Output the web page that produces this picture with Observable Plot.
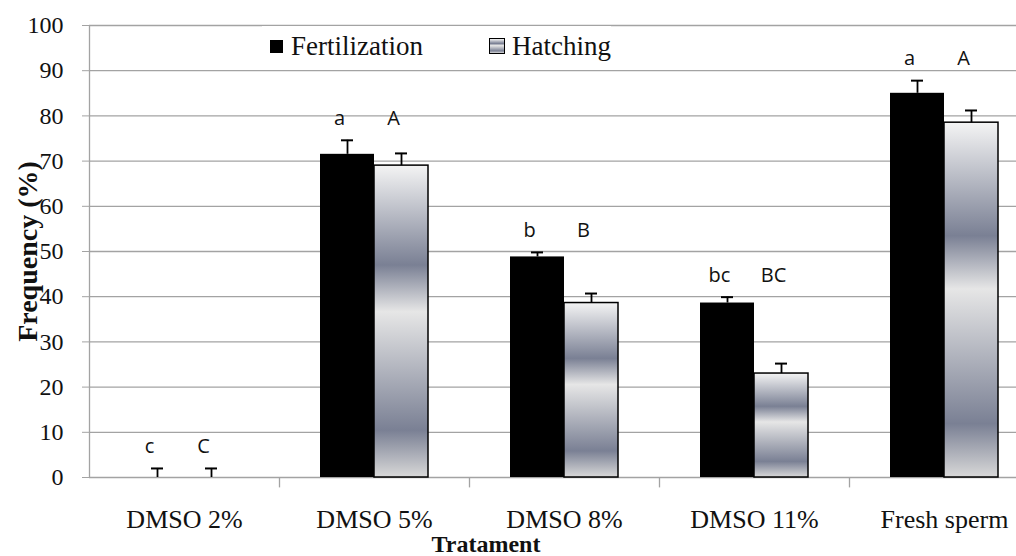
<!DOCTYPE html>
<html>
<head>
<meta charset="utf-8">
<script src="https://cdn.jsdelivr.net/npm/d3@7"></script>
<script src="https://cdn.jsdelivr.net/npm/@observablehq/plot@0.6"></script>
<style>
  body { margin: 0; background: #fff; }
  #wrap { position: relative; width: 1016px; height: 556px; overflow: hidden; background: #fff; }
  #wrap svg text { font-family: "Liberation Serif", "Times New Roman", serif; }
  #wrap svg text.sans, #wrap svg g.sans text { font-family: "Open Sans", Lato, sans-serif; }
  #legend { position: absolute; left: 262px; top: 26px; height: 40px; background: #fff;
            font-family: "Liberation Serif", "Times New Roman", serif; font-size: 27px; color: #111; display: flex; align-items: center; }
  .sw { display: inline-block; width: 13px; height: 13px; margin: 0 8px 0 8px; box-sizing: border-box; }
  .sw.f { background: #000; }
  .sw.h { width: 16px; height: 16px; border: 1.5px solid #000; margin-left: 66px; margin-right: 7px;
          background: linear-gradient(#f4f4f4 0%, #7a8094 32%, #e6e6e6 47%, #7a8094 85%, #d8d8d8 100%); }
</style>
</head>
<body>
<div id="wrap"></div>
<script>
const categories = ["DMSO 2%", "DMSO 5%", "DMSO 8%", "DMSO 11%", "Fresh sperm"];
const fertilization = [0, 71.5, 48.8, 38.6, 85.0];
const fertErr = [2, 3.1, 1.0, 1.3, 2.8];
const hatching = [0, 69.0, 38.6, 23.0, 78.5];
const hatchErr = [2, 2.7, 2.1, 2.2, 2.7];
const fertLetters = ["c", "a", "b", "bc", "a"];
const hatchLetters = ["C", "A", "B", "BC", "A"];
const yTicks = [0, 10, 20, 30, 40, 50, 60, 70, 80, 90, 100];
const seriesNames = ["Fertilization", "Hatching"];

const rows = categories.map((c, i) => ({
  category: c,
  fert: fertilization[i], fertErr: fertErr[i], fertLetter: fertLetters[i],
  hatch: hatching[i], hatchErr: hatchErr[i], hatchLetter: hatchLetters[i]
}));

const grid = "#a3a3a3";
const serif = "Liberation Serif";
const sans = "Open Sans";

const chart = Plot.plot({
  width: 1016,
  height: 556,
  marginLeft: 89,
  marginRight: 0,
  marginTop: 25,
  marginBottom: 79,
  x: { domain: categories, range: [89, 1039], padding: 0, axis: null },
  y: { domain: [0, 100], axis: null },
  style: { fontFamily: serif, fontSize: "24px", color: "#111", background: "#fff", overflow: "hidden" },
  marks: [
    Plot.ruleY(yTicks.filter(d => d > 0), { stroke: grid, strokeWidth: 1.3 }),
    Plot.ruleX([categories[0]], { x: d => d, dx: -95, stroke: grid, strokeWidth: 1.3 }),
    Plot.ruleY([0], { stroke: grid, strokeWidth: 1.5 }),
    Plot.ruleX(categories.slice(1), { x: d => d, dx: -95, y1: () => 0, y2: () => -2.3, stroke: grid, strokeWidth: 1.3 }),
    Plot.axisY(yTicks, { tickSize: 7, tickPadding: 19, stroke: grid, fill: "#111", fontSize: 24, fontFamily: serif, label: null }),
    Plot.text(categories, { x: d => d, y: () => 0, dy: 42, fontSize: 26, fontFamily: serif, fill: "#111" }),
    // bars
    Plot.barY(rows, { x: "category", y: "fert", fill: "#000", insetLeft: 41, insetRight: 95 }),
    Plot.barY(rows, { x: "category", y: "hatch", fill: "url(#hatchGrad)", stroke: "#000", strokeWidth: 1.5, insetLeft: 95, insetRight: 41 }),
    // error bars
    Plot.ruleX(rows, { x: "category", dx: -27, y1: "fert", y2: d => d.fert + d.fertErr, stroke: "#000", strokeWidth: 1.8 }),
    Plot.ruleX(rows, { x: "category", dx: 27, y1: "hatch", y2: d => d.hatch + d.hatchErr, stroke: "#000", strokeWidth: 1.8 }),
    Plot.tickY(rows, { x: "category", y: d => d.fert + d.fertErr, insetLeft: 62, insetRight: 116, stroke: "#000", strokeWidth: 2 }),
    Plot.tickY(rows, { x: "category", y: d => d.hatch + d.hatchErr, insetLeft: 116, insetRight: 62, stroke: "#000", strokeWidth: 2 }),
    // significance letters
    Plot.text(rows, { x: "category", y: d => Math.max(d.fert + d.fertErr, d.hatch + d.hatchErr), text: "fertLetter", dx: -35, dy: -22, fontFamily: sans, fontSize: 20, fill: "#111", className: "sans" }),
    Plot.text(rows, { x: "category", y: d => Math.max(d.fert + d.fertErr, d.hatch + d.hatchErr), text: "hatchLetter", dx: 19, dy: -22, fontFamily: sans, fontSize: 20, fill: "#111", className: "sans" }),
    // axis titles
    Plot.text(["Frequency (%)"], { frameAnchor: "left", dx: -61, dy: 0, rotate: -90, textAnchor: "middle", lineAnchor: "middle", fontWeight: "bold", fontSize: 28, fontFamily: serif, fill: "#111" }),
    Plot.text(["Tratament"], { frameAnchor: "bottom", dx: -67, dy: 67, textAnchor: "middle", lineAnchor: "middle", fontWeight: "bold", fontSize: 24, fontFamily: serif, fill: "#111" })
  ]
});

d3.select(chart).insert("defs", ":first-child").html(
  '<linearGradient id="hatchGrad" x1="0" y1="0" x2="0" y2="1">' +
  '<stop offset="0" stop-color="#f4f4f4"/>' +
  '<stop offset="0.32" stop-color="#7a8094"/>' +
  '<stop offset="0.47" stop-color="#e6e6e6"/>' +
  '<stop offset="0.85" stop-color="#7a8094"/>' +
  '<stop offset="1" stop-color="#d8d8d8"/>' +
  '</linearGradient>'
);

const wrap = document.getElementById("wrap");
wrap.appendChild(chart);
const legend = document.createElement("div");
legend.id = "legend";
legend.innerHTML = '<span class="sw f"></span><span>' + seriesNames[0] + '</span><span class="sw h"></span><span>' + seriesNames[1] + '</span>';
wrap.appendChild(legend);
</script>
</body>
</html>
